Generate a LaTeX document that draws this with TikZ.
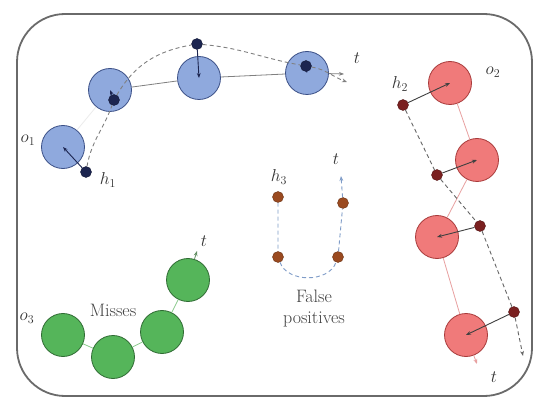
\documentclass[tikz,border=0pt]{standalone}
\usetikzlibrary{arrows.meta}
\definecolor{bfill}{HTML}{8FA9DD}
\definecolor{bdraw}{HTML}{3A4F86}
\definecolor{bhid}{HTML}{1C2550}
\definecolor{rfill}{HTML}{F07A7A}
\definecolor{rdraw}{HTML}{A83A3A}
\definecolor{rhid}{HTML}{7A2020}
\definecolor{rline}{HTML}{E8A0A0}
\definecolor{gfill}{HTML}{55B55A}
\definecolor{gdraw}{HTML}{2F6B33}
\definecolor{gline}{HTML}{8CCB8E}
\definecolor{fhid}{HTML}{9A4A20}
\definecolor{fdash}{HTML}{7F9CC8}
\definecolor{frame}{HTML}{6A6A6A}
\tikzset{
  obj/.style={circle, minimum size=43pt, inner sep=0pt, line width=0.8pt},
  bobj/.style={obj, fill=bfill, draw=bdraw},
  robj/.style={obj, fill=rfill, draw=rdraw},
  gobj/.style={obj, fill=gfill, draw=gdraw},
  hid/.style={circle, minimum size=11pt, inner sep=0pt, draw=#1!70!black, fill=#1},
  hlink/.style={line width=0.9pt, -{Stealth[length=5pt]}},
  traj/.style={dashed, line width=0.9pt, dash pattern=on 4pt off 3pt},
  lab/.style={font=\fontsize{17}{19}\selectfont, inner sep=1pt, text=black!80},
  txt/.style={font=\fontsize{18}{21}\selectfont, align=center, text=black!75}
}
\begin{document}
\begin{tikzpicture}[x=1pt,y=-1pt]
\useasboundingbox (0,0) rectangle (536,401);
\fill[white] (0,0) rectangle (536,401);
\draw[frame, line width=1.8pt, rounded corners=48pt] (17,14) rectangle (532,396);

% ---------- blue chain ----------
\node[bobj] (B1) at (63,147) {};
\node[bobj] (B2) at (110,90) {};
\node[bobj] (B3) at (199,78) {};
\node[bobj] (B4) at (307,73) {};
\coordinate (Bt) at (344,74);
\coordinate (Bd) at (347,82);
\draw[white!85!gray, line width=0.8pt] (B1) -- (B2);
\draw[gray, line width=0.8pt] (B2) -- (B3) -- (B4);
\draw[gray, line width=0.8pt, -{Stealth[length=5pt]}] (B4) -- (Bt);
\node[hid=bhid] (h1) at (86,172) {};
\node[hid=bhid] (hb2) at (114,100) {};
\node[hid=bhid] (hb3) at (197,44) {};
\node[hid=bhid] (hb4) at (306,66) {};
\draw[traj, gray] (h1) to[out=80,in=-110] (hb2) to[out=60,in=190] (hb3)
  to[out=-5,in=170] (hb4);
\draw[traj, gray, -{Stealth[length=5pt]}] (hb4) to[out=-10,in=160] (Bd);
\draw[hlink, bhid] (h1) -- (B1.center);
\draw[hlink, bhid] (hb2) -- (B2.center);
\draw[hlink, bhid] (hb3) -- (B3.center);
\draw[hlink, bhid] (hb4) -- (B4.center);
\node[lab] (lo1) at (28,140) {$o_1$};
\node[lab] (lh1) at (108,180) {$h_1$};
\node[lab] (lbt) at (357,58) {$t$};

% ---------- red chain ----------
\node[robj] (R1) at (450,83) {};
\node[robj] (R2) at (477,160) {};
\node[robj] (R3) at (437,237) {};
\node[robj] (R4) at (466,335) {};
\coordinate (Rt) at (477,364);
\coordinate (Rd) at (523,356);
\draw[rline, line width=0.8pt] (R1) -- (R2) -- (R3) -- (R4);
\draw[rline, line width=0.8pt, -{Stealth[length=5pt]}] (R4) -- (Rt);
\node[hid=rhid] (h2) at (403,105) {};
\node[hid=rhid] (hr2) at (437,175) {};
\node[hid=rhid] (hr3) at (480,226) {};
\node[hid=rhid] (hr4) at (514,312) {};
\draw[traj, black!60] (h2) -- (hr2) -- (hr3) -- (hr4);
\draw[traj, black!60, -{Stealth[length=5pt]}] (hr4) -- (Rd);
\draw[hlink, black!75] (h2) -- (R1.center);
\draw[hlink, black!75] (hr2) -- (R2.center);
\draw[hlink, black!75] (hr3) -- (R3.center);
\draw[hlink, black!75] (hr4) -- (R4.center);
\node[lab] (lh2) at (400,84) {$h_2$};
\node[lab] (lo2) at (493,72) {$o_2$};
\node[lab] (lrt) at (494,377) {$t$};

% ---------- green chain ----------
\node[gobj] (G1) at (63,335) {};
\node[gobj] (G2) at (113,357) {};
\node[gobj] (G3) at (162,332) {};
\node[gobj] (G4) at (188,280) {};
\coordinate (Gt) at (197,251);
\draw[gline, line width=0.8pt] (G1) -- (G2) -- (G3) -- (G4);
\draw[gline!70!black, line width=0.8pt, -{Stealth[length=5pt]}] (G4) -- (Gt);
\node[lab] (lo3) at (27,318) {$o_3$};
\node[lab] (lgt) at (204,241) {$t$};
\node[txt] (miss) at (113,310) {Misses};

% ---------- false positives ----------
\node[hid=fhid] (f1) at (278,197) {};
\node[hid=fhid] (f2) at (278,257) {};
\node[hid=fhid] (f3) at (338,257) {};
\node[hid=fhid] (f4) at (343,203) {};
\coordinate (Ft) at (341,176);
\draw[traj, fdash] (f1) -- (f2) to[out=-70,in=-110] (f3) -- (f4);
\draw[traj, fdash, -{Stealth[length=5pt]}] (f4) -- (Ft);
\node[lab] (lh3) at (279,177) {$h_3$};
\node[lab] (lft) at (336,159) {$t$};
\node[txt] (fp) at (314,309) {False\\positives};
\end{tikzpicture}
\end{document}
